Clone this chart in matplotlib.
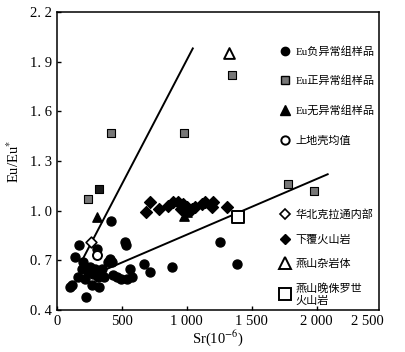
import matplotlib
matplotlib.use("Agg")
import matplotlib.pyplot as plt
from matplotlib.lines import Line2D

plt.rcParams["font.family"] = ["Liberation Serif", "Noto Sans CJK SC"]
plt.rcParams["mathtext.fontset"] = "stix"

# ── data ──────────────────────────────────────────────────────
neg_sr = [100, 115, 138, 169, 200, 162, 192, 215, 223, 238, 254, 269, 277, 292,
          308, 315, 323, 346, 362, 392, 408, 415, 423, 431, 462, 492, 523, 531,
          538, 562, 575, 669, 715, 885, 1254, 1385]
neg_eu = [0.54, 0.55, 0.72, 0.79, 0.69, 0.60, 0.65, 0.59, 0.48, 0.63, 0.66, 0.55,
          0.62, 0.65, 0.77, 0.60, 0.54, 0.65, 0.60, 0.69, 0.71, 0.94, 0.69, 0.61,
          0.60, 0.59, 0.81, 0.79, 0.59, 0.65, 0.60, 0.68, 0.63, 0.66, 0.81, 0.68]

pos_sr = [240, 415, 977, 1346, 1777, 1977]
pos_eu = [1.07, 1.47, 1.47, 1.82, 1.16, 1.12]
pos_dark_sr = [325]
pos_dark_eu = [1.13]

none_sr = [310, 975, 1005]
none_eu = [0.96, 0.97, 0.99]

crust_sr = [310]
crust_eu = [0.73]

ncc_sr = [260]
ncc_eu = [0.81]

volc_sr = [683, 715, 785, 854, 892, 931, 954, 969, 1000, 1038, 1062, 1115, 1138,
           1192, 1200, 1308]
volc_eu = [0.99, 1.05, 1.01, 1.03, 1.05, 1.05, 1.01, 1.04, 1.02, 1.01, 1.02, 1.04,
           1.05, 1.02, 1.05, 1.02]

complex_sr = [1323]
complex_eu = [1.95]

jurassic_sr = [1392]
jurassic_eu = [0.96]

steep_sr = [200, 1046]
steep_eu = [0.71, 1.98]
shallow_sr = [331, 2085]
shallow_eu = [0.63, 1.22]

x_ticks = [0, 500, 1000, 1500, 2000]
x_labels = ["0", "500", "1 000", "1 500", "2 000"]
y_ticks = [0.4, 0.7, 1.0, 1.3, 1.6, 1.9, 2.2]
y_labels = ["0. 4", "0. 7", "1. 0", "1. 3", "1. 6", "1. 9", "2. 2"]

fig = plt.figure(figsize=(4.06, 3.52), dpi=100)
ax = fig.add_axes([0.1404, 0.1193, 0.793, 0.8466])

# ── trend lines ──────────────────────────────────────────────
ax.plot(steep_sr, steep_eu, color="black", lw=1.4, zorder=2)
ax.plot(shallow_sr, shallow_eu, color="black", lw=1.4, zorder=2)

# ── markers ──────────────────────────────────────────────────
ax.scatter(neg_sr, neg_eu, s=42, marker="o", color="black", zorder=3)
ax.scatter(pos_sr, pos_eu, s=36, marker="s", facecolor="#777777",
           edgecolor="black", linewidth=0.8, zorder=3)
ax.scatter(pos_dark_sr, pos_dark_eu, s=36, marker="s", facecolor="#1a1a1a",
           edgecolor="black", linewidth=0.8, zorder=3)
ax.scatter(none_sr, none_eu, s=45, marker="^", color="black", zorder=3)
ax.scatter(volc_sr, volc_eu, s=36, marker="D", color="black", zorder=3)
ax.scatter(crust_sr, crust_eu, s=42, marker="o", facecolor="white",
           edgecolor="black", linewidth=1.4, zorder=4)
ax.scatter(ncc_sr, ncc_eu, s=30, marker="D", facecolor="white",
           edgecolor="black", linewidth=1.2, zorder=4)
ax.scatter(complex_sr, complex_eu, s=60, marker="^", facecolor="white",
           edgecolor="black", linewidth=1.4, zorder=4)
ax.scatter(jurassic_sr, jurassic_eu, s=70, marker="s", facecolor="white",
           edgecolor="black", linewidth=1.4, zorder=4)

# ── axes ─────────────────────────────────────────────────────
ax.set_xlim(0, 2480)
ax.set_ylim(0.4, 2.2)
ax.set_xticks(x_ticks)
ax.set_xticklabels(x_labels)
# the "2 500" label in the original sits short of the axis end, no tick mark
ax.set_xticks([2390], minor=True)
ax.set_xticklabels(["2 500"], minor=True)
ax.set_yticks(y_ticks)
ax.set_yticklabels(y_labels)
ax.tick_params(direction="in", length=3, labelsize=10.5, width=1)
ax.tick_params(axis="x", which="minor", length=0, labelsize=10.5, pad=3.5)
for s in ax.spines.values():
    s.set_linewidth(1.1)
ax.set_xlabel(r"Sr(10$^{-6}$)", fontsize=10.5, labelpad=0)
ax.set_ylabel(r"Eu/Eu$^{*}$", fontsize=10.5, labelpad=6)

# ── legends ──────────────────────────────────────────────────
leg_font = {"family": ["Liberation Serif", "Noto Sans CJK SC"], "size": 8}
h1 = [
    Line2D([], [], ls="", marker="o", color="black", ms=6),
    Line2D([], [], ls="", marker="s", mfc="#777777", mec="black", ms=6),
    Line2D([], [], ls="", marker="^", color="black", ms=6.5),
    Line2D([], [], ls="", marker="o", mfc="white", mec="black", mew=1.4, ms=6),
]
l1 = ["Eu负异常组样品", "Eu正异常组样品", "Eu无异常组样品", "上地壳均值"]
leg1 = ax.legend(h1, l1, loc="upper left", bbox_to_anchor=(0.675, 0.905),
                 frameon=False, prop=leg_font, handlelength=1.0,
                 handletextpad=0.4, labelspacing=1.72, borderpad=0)
ax.add_artist(leg1)

h2 = [
    Line2D([], [], ls="", marker="D", mfc="white", mec="black", mew=1.2, ms=5),
    Line2D([], [], ls="", marker="D", color="black", ms=5),
    Line2D([], [], ls="", marker="^", mfc="white", mec="black", mew=1.4, ms=8),
    Line2D([], [], ls="", marker="s", mfc="white", mec="black", mew=1.4, ms=8.5),
]
l2 = ["华北克拉通内部", "下覆火山岩", "燕山杂岩体", "燕山晚侏罗世\n火山岩"]
ax.legend(h2, l2, loc="upper left", bbox_to_anchor=(0.675, 0.357),
          frameon=False, prop=leg_font, handlelength=1.0,
          handletextpad=0.4, labelspacing=1.3, borderpad=0)

fig.savefig("out.png", dpi=100)
